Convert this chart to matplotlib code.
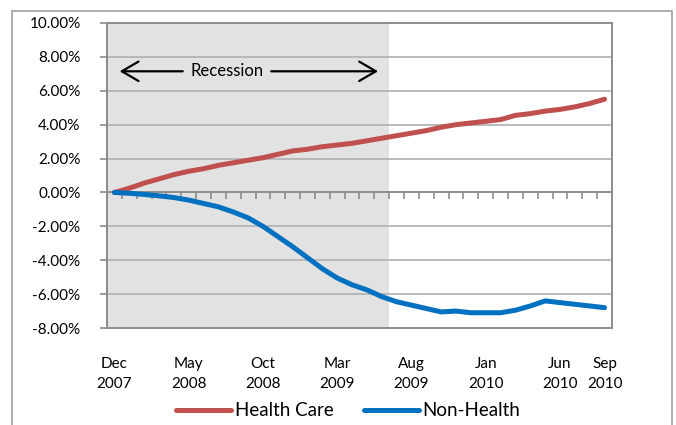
import numpy as np
import pandas as pd
import matplotlib
matplotlib.use("Agg")
import matplotlib.pyplot as plt
from matplotlib.patches import Rectangle

plt.rcParams['font.family'] = ['Lato', 'DejaVu Sans']

# monthly categories, Dec 2007 .. Sep 2010
months = pd.date_range("2007-12-01", "2010-09-01", freq="MS")

# cumulative employment change, percent
health_care = [0.0, 0.25, 0.55, 0.8, 1.05, 1.25, 1.4, 1.6, 1.75, 1.9,
               2.05, 2.25, 2.45, 2.55, 2.7, 2.8, 2.9, 3.05, 3.2, 3.35,
               3.5, 3.65, 3.85, 4.0, 4.1, 4.2, 4.3, 4.55, 4.65, 4.8,
               4.9, 5.05, 5.25, 5.5]
non_health = [0.0, -0.05, -0.12, -0.2, -0.3, -0.45, -0.65, -0.85, -1.15, -1.5,
              -2.0, -2.6, -3.2, -3.85, -4.5, -5.05, -5.45, -5.75, -6.15, -6.45,
              -6.65, -6.85, -7.05, -7.0, -7.1, -7.1, -7.1, -6.95, -6.7, -6.4,
              -6.5, -6.6, -6.7, -6.8]

label_months = ["2007-12", "2008-05", "2008-10", "2009-03", "2009-08",
                "2010-01", "2010-06", "2010-09"]
label_text = ["Dec\n2007", "May\n2008", "Oct\n2008", "Mar\n2009", "Aug\n2009",
              "Jan\n2010", "Jun\n2010", "Sep\n2010"]
y_ticks = [-8, -6, -4, -2, 0, 2, 4, 6, 8, 10]
y_labels = ["-8.00%", "-6.00%", "-4.00%", "-2.00%", "0.00%",
            "2.00%", "4.00%", "6.00%", "8.00%", "10.00%"]
recession_end = "2009-06"

RED = "#C0504D"
BLUE = "#0070C0"
GRID = "#B4B4B4"
AXIS = "#8C8C8C"

x = np.arange(len(months))
pos = {m.strftime("%Y-%m"): i for i, m in enumerate(months)}

fig = plt.figure(figsize=(6.76, 4.25), dpi=100)
ax = fig.add_axes([0.1583, 0.2282, 0.747, 0.7177])

# outer chart frame
fig.patches.append(Rectangle((12 / 676, -0.1), 660 / 676, 1.074, fill=False,
                             edgecolor="#A0A0A0", lw=1.2,
                             transform=fig.transFigure, clip_on=False))

ax.axvspan(-0.5, pos[recession_end] + 0.5, color="#E2E2E2", zorder=0, lw=0)

for yv in y_ticks:
    if yv not in (-8, 0, 10):
        ax.axhline(yv, color=GRID, lw=1.3, zorder=1)
ax.axhline(0, color=AXIS, lw=1.4, zorder=1.5)
bounds = x[:-1] + 0.5
ax.vlines(bounds, -0.36, 0, color=AXIS, lw=1.2, zorder=1.5)

ax.plot(x, health_care, color=RED, lw=3.6, solid_capstyle="round",
        label="Health Care", zorder=3)
ax.plot(x, non_health, color=BLUE, lw=3.6, solid_capstyle="round",
        label="Non-Health", zorder=3)

ax.set_xlim(-0.5, len(months) - 0.5)
ax.set_ylim(-8, 10)
ax.set_yticks(y_ticks)
ax.set_yticklabels(y_labels, fontsize=11)
ax.set_xticks([pos[m] for m in label_months])
ax.set_xticklabels(label_text, fontsize=11, linespacing=1.5)
ax.tick_params(axis="x", length=0, pad=21)
ax.tick_params(axis="y", length=5, width=1.2, color=AXIS, pad=14)
for s in ax.spines.values():
    s.set_color(AXIS)
    s.set_linewidth(1.4)

# recession marker
ax.annotate("", xy=(0.35, 7.15), xytext=(4.6, 7.15),
            arrowprops=dict(arrowstyle="->, head_length=0.6, head_width=0.35",
                            lw=1.6, color="black", mutation_scale=20,
                            shrinkA=0, shrinkB=0))
ax.annotate("", xy=(17.75, 7.15), xytext=(10.55, 7.15),
            arrowprops=dict(arrowstyle="->, head_length=0.6, head_width=0.35",
                            lw=1.6, color="black", mutation_scale=20,
                            shrinkA=0, shrinkB=0))
ax.text(7.55, 7.15, "Recession", ha="center", va="center", fontsize=12)

fig.legend(loc="center", bbox_to_anchor=(0.5155, 0.033), ncol=2, frameon=False,
           fontsize=13.5, handlelength=2.93, handletextpad=0.2,
           columnspacing=1.6)

fig.savefig("out.png", dpi=100)
